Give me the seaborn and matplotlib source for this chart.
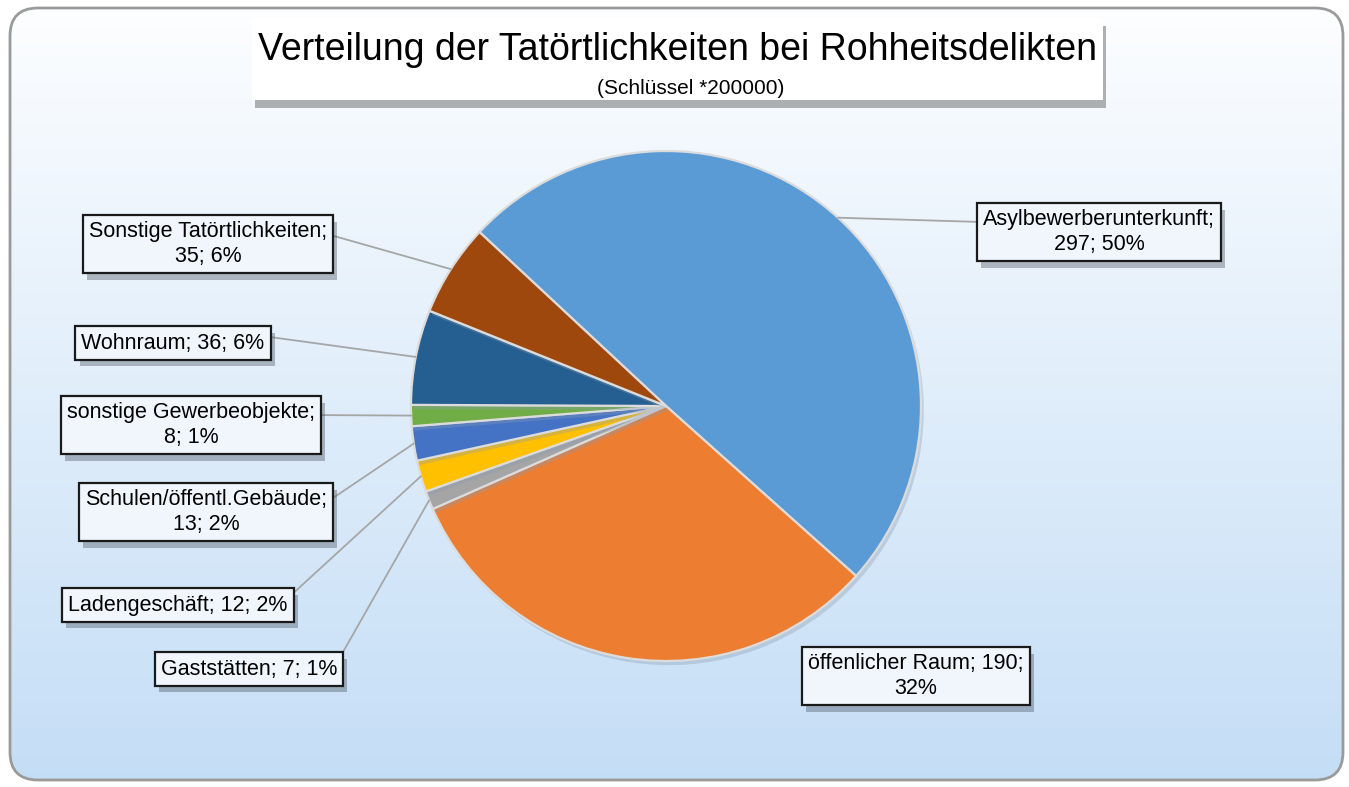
import numpy as np
import matplotlib
matplotlib.use("Agg")
import matplotlib.pyplot as plt
import seaborn as sns
from matplotlib.patches import FancyBboxPatch, Rectangle
from matplotlib import patheffects as pe

# ---- data ----
categories = ["Asylbewerberunterkunft", "öffenlicher Raum", "Gaststätten", "Ladengeschäft",
              "Schulen/öffentl.Gebäude", "sonstige Gewerbeobjekte", "Wohnraum",
              "Sonstige Tatörtlichkeiten"]
values = [297, 190, 7, 12, 13, 8, 36, 35]
label_texts = ["Asylbewerberunterkunft;\n297; 50%", "öffenlicher Raum; 190;\n32%",
               "Gaststätten; 7; 1%", "Ladengeschäft; 12; 2%",
               "Schulen/öffentl.Gebäude;\n13; 2%", "sonstige Gewerbeobjekte;\n8; 1%",
               "Wohnraum; 36; 6%", "Sonstige Tatörtlichkeiten;\n35; 6%"]
title = "Verteilung der Tatörtlichkeiten bei Rohheitsdelikten"
subtitle = "(Schlüssel *200000)"

# ---- style ----
sns.set_theme(style="white")
plt.rcParams['font.family'] = ['Liberation Sans', 'DejaVu Sans']
colors = sns.color_palette(["#5B9BD5", "#ED7D31", "#A5A5A5", "#FFC000",
                            "#4472C4", "#70AD47", "#255E91", "#9E480E"])

W, H = 1349, 787
fig = plt.figure(figsize=(W / 100, H / 100), dpi=100)
fig.patch.set_facecolor("white")
ax = fig.add_axes([0, 0, 1, 1])

def py(y):
    return H - y

# background rounded panel with vertical gradient
panel = FancyBboxPatch((10, py(780)), 1333, 772, boxstyle="round,pad=0,rounding_size=28",
                       fc="none", ec="#9a9a9a", lw=2.0, zorder=1)
ax.add_patch(panel)
grad = np.linspace(0, 1, 256).reshape(-1, 1)
top = np.array([0.99, 0.995, 1.0])
bot = np.array([0.77, 0.87, 0.965])
img = top[None, None, :] * (1 - grad[..., None]) + bot[None, None, :] * grad[..., None]
im = ax.imshow(img, extent=(10, 1343, py(780), py(8)), origin="upper", aspect="auto", zorder=0)
im.set_clip_path(panel)

# pie
cx, cy, r = 666, 406, 255
wedges, _ = ax.pie(values, colors=colors, startangle=137, counterclock=False,
                   center=(cx, py(cy)), radius=r,
                   wedgeprops=dict(edgecolor="#dcdcdc", linewidth=1.6))
for w in wedges:
    w.set_zorder(3)
    w.set_path_effects([pe.SimplePatchShadow(offset=(2, -3), shadow_rgbFace="#8a9bb0", alpha=0.35),
                        pe.Normal()])

# label positions (box centers, pixel coords)
label_pos = [(1099, 232), (916, 676), (249, 669), (178, 605),
             (206, 512), (191, 425), (173, 343), (208, 244)]
show_line = [True, False, True, True, True, True, True, True]

for w, txt, (lx, ly), line in zip(wedges, label_texts, label_pos, show_line):
    mid = np.deg2rad((w.theta1 + w.theta2) / 2)
    ex = cx + r * np.cos(mid)
    ey = py(cy) + r * np.sin(mid)
    two = "\n" in txt
    rx = 0.0 if lx > cx else 1.0
    ry = 0.72 if two else 0.82
    ap = dict(arrowstyle="-", color="#a6a6a6", lw=1.3, shrinkA=0, shrinkB=0,
              relpos=(rx, ry)) if line else None
    t = ax.annotate(txt, xy=(ex, ey), xytext=(lx, py(ly)), ha="center", va="center",
                    fontsize=15.5, color="black", linespacing=1.2,
                    bbox=dict(boxstyle="square,pad=0.28", fc="#f0f6fc", ec="#1a1a1a", lw=1.6),
                    arrowprops=ap, zorder=5)
    t.get_bbox_patch().set_path_effects([
        pe.SimplePatchShadow(offset=(3, -5), shadow_rgbFace="#3a4450", alpha=0.35),
        pe.Normal()])

# title box
tb = Rectangle((252, py(100)), 851, 82, fc="white", ec="none", zorder=5)
tb.set_path_effects([pe.SimplePatchShadow(offset=(2, -6), shadow_rgbFace="#555555", alpha=0.45),
                     pe.Normal()])
ax.add_patch(tb)
ax.text(677, py(50), title, ha="center", va="center", fontsize=27, color="black", zorder=6)
ax.text(691, py(89), subtitle, ha="center", va="center", fontsize=15, color="black", zorder=6)

ax.set_xlim(0, W)
ax.set_ylim(0, H)
ax.set_aspect("auto")
ax.axis("off")

fig.savefig("out.png", dpi=100)
